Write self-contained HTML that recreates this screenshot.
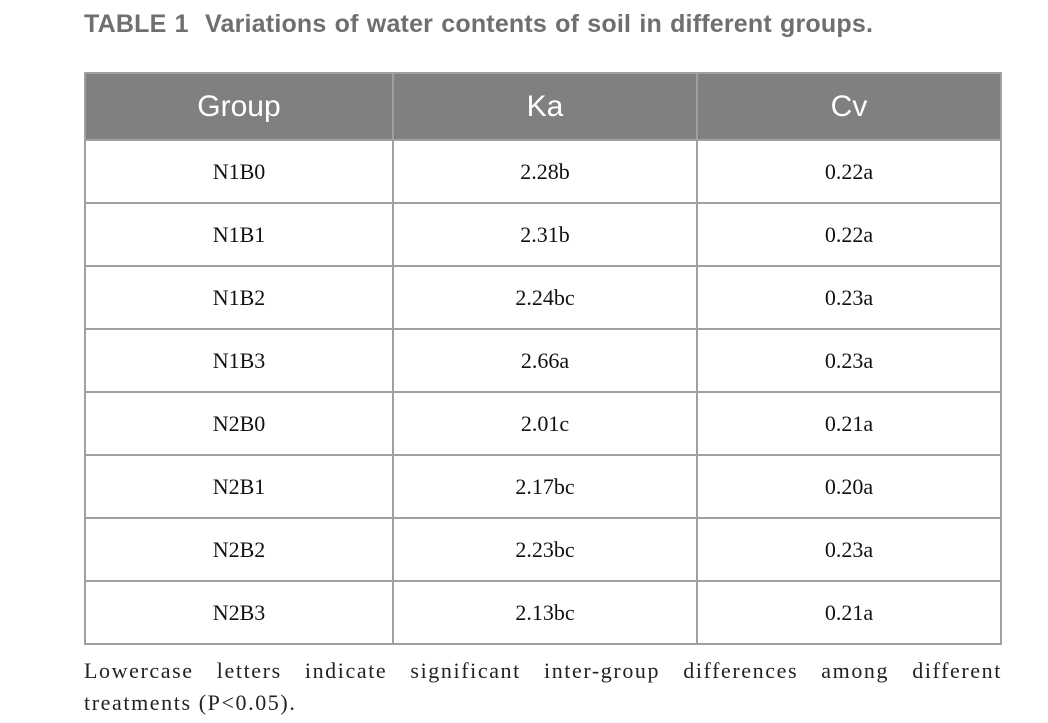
<!DOCTYPE html>
<html><head><meta charset="utf-8"><style>
body{margin:0;width:1048px;height:723px;background:#fff;position:relative;overflow:hidden}
.t{position:absolute;left:84px;top:10px;font:bold 25px "Liberation Sans",sans-serif;color:#6f6f6f;letter-spacing:0.2px;word-spacing:1px;white-space:nowrap}
table{position:absolute;left:84px;top:72px;width:918px;border-collapse:collapse}
td,th{border:2px solid #a0a0a0;text-align:center;padding:0}
th{background:#808080;color:#fff;font:normal 30px "Liberation Sans",sans-serif;height:65px;border-color:#a0a0a0}
td{height:61px;font:22px "Liberation Serif",serif;color:#111}
.n{position:absolute;left:84px;top:655px;width:918px;font:22px "Liberation Serif",serif;color:#222;line-height:32px;letter-spacing:1.6px}
.j{text-align:justify;text-align-last:justify}
</style></head><body>
<div class="t">TABLE 1&nbsp;&nbsp;Variations of water contents of soil in different groups.</div>
<table>
<tr><th style="width:306px">Group</th><th style="width:302px">Ka</th><th>Cv</th></tr>
<tr><td>N1B0</td><td>2.28b</td><td>0.22a</td></tr>
<tr><td>N1B1</td><td>2.31b</td><td>0.22a</td></tr>
<tr><td>N1B2</td><td>2.24bc</td><td>0.23a</td></tr>
<tr><td>N1B3</td><td>2.66a</td><td>0.23a</td></tr>
<tr><td>N2B0</td><td>2.01c</td><td>0.21a</td></tr>
<tr><td>N2B1</td><td>2.17bc</td><td>0.20a</td></tr>
<tr><td>N2B2</td><td>2.23bc</td><td>0.23a</td></tr>
<tr><td>N2B3</td><td>2.13bc</td><td>0.21a</td></tr>
</table>
<div class="n"><div class="j">Lowercase letters indicate significant inter-group differences among different</div><div>treatments (P&lt;0.05).</div></div>
</body></html>
